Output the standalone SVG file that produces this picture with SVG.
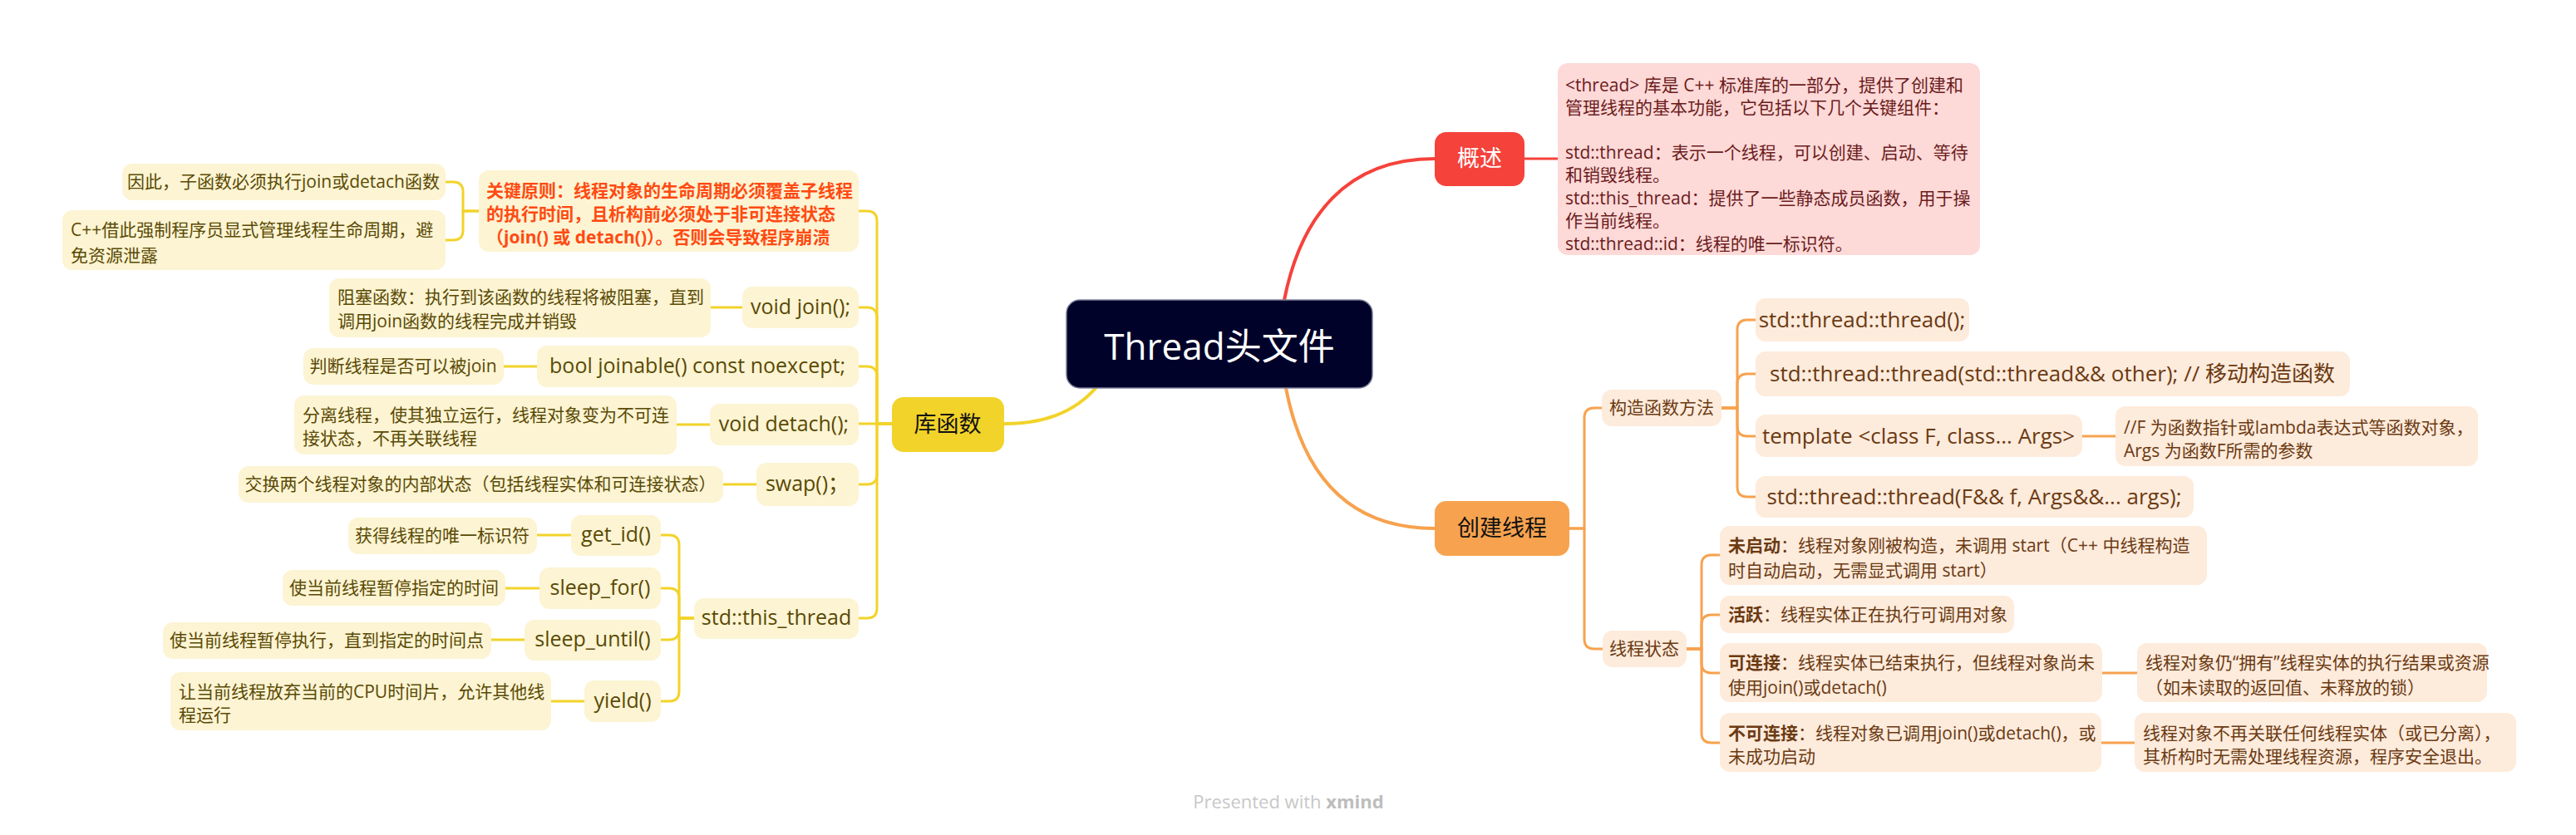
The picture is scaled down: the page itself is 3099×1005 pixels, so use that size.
<svg xmlns="http://www.w3.org/2000/svg" width="3099" height="1005" viewBox="0 0 3099 1005">
<style>
text{font-family:"Open Sans","Noto Sans CJK SC",sans-serif}
.cr{fill:none;stroke:#F5423B;stroke-width:4}
.co{fill:none;stroke:#F7A24E;stroke-width:4}
.cy{fill:none;stroke:#F2D329;stroke-width:4}
.sr{stroke-width:3}
.ny{fill:#FCF4D3}
.no{fill:#FDEBDC}
.ty{fill:#5A4A05;font-size:21px}
.tyc{fill:#5A4A05;font-size:25px;text-anchor:middle}
.to{fill:#6B3A12;font-size:21px}
.toc{fill:#6B3A12;font-size:26px;text-anchor:middle}
.tr{fill:#6B1C1C;font-size:21px}
.main{font-size:27px;text-anchor:middle}
.mid{text-anchor:middle}
</style>
<rect width="3099" height="1005" fill="#FFFFFF"/>
<g id="connectors">
<path class="cr" d="M1545 361 C1565 260 1620 191 1726 191"/>
<path class="cr sr" d="M1834 191 H1874"/>
<path class="co" d="M1547 467 C1567 570 1620 636 1726 636"/>
<path class="co sr" d="M1888 636 H1906 V503 Q1906 491 1918 491 H1927"/>
<path class="co sr" d="M1888 636 H1906 V769 Q1906 781 1918 781 H1928"/>
<path class="co sr" d="M2071 491 H2090 V397 Q2090 385 2102 385 H2112"/>
<path class="co sr" d="M2071 491 H2090 V462 Q2090 450 2102 450 H2112"/>
<path class="co sr" d="M2071 491 H2090 V513 Q2090 525 2102 525 H2112"/>
<path class="co sr" d="M2071 491 H2090 V586 Q2090 598 2102 598 H2112"/>
<path class="co sr" d="M2505 525 H2545"/>
<path class="co sr" d="M2029 781 H2047 V680 Q2047 668 2059 668 H2069"/>
<path class="co sr" d="M2029 781 H2047 V752 Q2047 740 2059 740 H2069"/>
<path class="co sr" d="M2029 781 H2047 V798 Q2047 810 2059 810 H2069"/>
<path class="co sr" d="M2029 781 H2047 V882 Q2047 894 2059 894 H2069"/>
<path class="co sr" d="M2529 810 H2571"/>
<path class="co sr" d="M2528 894 H2568"/>
<path class="cy" d="M1320 465 C1290 500 1250 510 1208 510"/>
<path class="cy sr" d="M1073 510 H1055 V266 Q1055 254 1043 254 H1033"/>
<path class="cy sr" d="M1073 510 H1055 V382 Q1055 370 1043 370 H1033"/>
<path class="cy sr" d="M1073 510 H1055 V453 Q1055 441 1043 441 H1033"/>
<path class="cy sr" d="M1073 510 H1033"/>
<path class="cy sr" d="M1073 510 H1055 V571 Q1055 583 1043 583 H1033"/>
<path class="cy sr" d="M1073 510 H1055 V732 Q1055 744 1043 744 H1033"/>
<path class="cy sr" d="M576 254 H557 V231 Q557 219 545 219 H536"/>
<path class="cy sr" d="M576 254 H557 V277 Q557 289 545 289 H536"/>
<path class="cy sr" d="M835 744 H817 V656 Q817 644 805 644 H795"/>
<path class="cy sr" d="M835 744 H817 V720 Q817 708 805 708 H795"/>
<path class="cy sr" d="M835 744 H817 V758 Q817 770 805 770 H795"/>
<path class="cy sr" d="M835 744 H817 V832 Q817 844 805 844 H795"/>
<path class="cy sr" d="M855 370 H893"/>
<path class="cy sr" d="M606 441 H646"/>
<path class="cy sr" d="M814 511 H854"/>
<path class="cy sr" d="M870 583 H910"/>
<path class="cy sr" d="M646 644 H687"/>
<path class="cy sr" d="M608 708 H649"/>
<path class="cy sr" d="M591 770 H631"/>
<path class="cy sr" d="M663 844 H703"/>
</g>
<g id="root">
<rect x="1283" y="361" width="368" height="106" rx="16" fill="#000229" stroke="#7A7F99" stroke-width="1.5"/>
<text x="1467" y="433" class="mid" font-size="44" fill="#FFFFFF">Thread头文件</text>
</g>
<g id="gaishu">
<rect x="1726" y="159" width="108" height="65" rx="14" fill="#F5423B"/>
<text x="1780" y="200" class="main" fill="#FFFFFF">概述</text>
</g>
<g id="gaishu-note">
<rect x="1874" y="76" width="508" height="231" rx="12" fill="#FDD9D8"/>
<text class="tr" x="1883">
<tspan x="1883" y="110">&lt;thread&gt; 库是 C++ 标准库的一部分，提供了创建和</tspan>
<tspan x="1883" y="137">管理线程的基本功能，它包括以下几个关键组件：</tspan>
<tspan x="1883" y="191">std::thread：表示一个线程，可以创建、启动、等待</tspan>
<tspan x="1883" y="218">和销毁线程。</tspan>
<tspan x="1883" y="246">std::this_thread：提供了一些静态成员函数，用于操</tspan>
<tspan x="1883" y="273">作当前线程。</tspan>
<tspan x="1883" y="301">std::thread::id：线程的唯一标识符。</tspan>
</text>
</g>
<g id="chuangjian">
<rect x="1726" y="603" width="162" height="66" rx="14" fill="#F7A24E"/>
<text x="1807" y="645" class="main" fill="#111111">创建线程</text>
</g>
<g id="gouzao">
<rect x="1927" y="469" width="144" height="44" rx="12" class="no"/>
<text x="1999" y="498" class="to mid">构造函数方法</text>
</g>
<g id="ctor1">
<rect x="2112" y="359" width="257" height="52" rx="12" class="no"/>
<text x="2240" y="394" class="toc">std::thread::thread();</text>
</g>
<g id="ctor2">
<rect x="2112" y="423" width="715" height="54" rx="12" class="no"/>
<text x="2469" y="459" class="toc">std::thread::thread(std::thread&amp;&amp; other); // 移动构造函数</text>
</g>
<g id="ctor3">
<rect x="2112" y="499" width="393" height="51" rx="12" class="no"/>
<text x="2308" y="534" class="toc">template &lt;class F, class... Args&gt;</text>
</g>
<g id="ctor3-note">
<rect x="2545" y="489" width="436" height="72" rx="12" class="no"/>
<text class="to"><tspan x="2555" y="522">//F 为函数指针或lambda表达式等函数对象，</tspan><tspan x="2555" y="550">Args 为函数F所需的参数</tspan></text>
</g>
<g id="ctor4">
<rect x="2112" y="573" width="527" height="50" rx="12" class="no"/>
<text x="2375" y="607" class="toc">std::thread::thread(F&amp;&amp; f, Args&amp;&amp;... args);</text>
</g>
<g id="zhuangtai">
<rect x="1928" y="759" width="101" height="44" rx="12" class="no"/>
<text x="1978" y="788" class="to mid">线程状态</text>
</g>
<g id="state1">
<rect x="2069" y="633" width="586" height="71" rx="12" class="no"/>
<text class="to"><tspan x="2079" y="664"><tspan font-weight="bold">未启动</tspan>：线程对象刚被构造，未调用 start（C++ 中线程构造</tspan><tspan x="2079" y="694">时自动启动，无需显式调用 start）</tspan></text>
</g>
<g id="state2">
<rect x="2069" y="717" width="354" height="45" rx="12" class="no"/>
<text class="to" x="2079" y="747"><tspan font-weight="bold">活跃</tspan>：线程实体正在执行可调用对象</text>
</g>
<g id="state3">
<rect x="2069" y="774" width="460" height="71" rx="12" class="no"/>
<text class="to"><tspan x="2079" y="805"><tspan font-weight="bold">可连接</tspan>：线程实体已结束执行，但线程对象尚未</tspan><tspan x="2079" y="835">使用join()或detach()</tspan></text>
</g>
<g id="state3-note">
<rect x="2571" y="774" width="421" height="71" rx="12" class="no"/>
<text class="to"><tspan x="2581" y="805">线程对象仍“拥有”线程实体的执行结果或资源</tspan><tspan x="2581" y="835">（如未读取的返回值、未释放的锁）</tspan></text>
</g>
<g id="state4">
<rect x="2069" y="858" width="459" height="71" rx="12" class="no"/>
<text class="to"><tspan x="2079" y="890"><tspan font-weight="bold">不可连接</tspan>：线程对象已调用join()或detach()，或</tspan><tspan x="2079" y="918">未成功启动</tspan></text>
</g>
<g id="state4-note">
<rect x="2568" y="858" width="459" height="71" rx="12" class="no"/>
<text class="to"><tspan x="2578" y="890">线程对象不再关联任何线程实体（或已分离），</tspan><tspan x="2578" y="918">其析构时无需处理线程资源，程序安全退出。</tspan></text>
</g>
<g id="kuhanshu">
<rect x="1073" y="478" width="135" height="66" rx="14" fill="#F2D329"/>
<text x="1140" y="520" class="main" fill="#111111">库函数</text>
</g>
<g id="principle">
<rect x="576" y="205" width="457" height="98" rx="12" class="ny"/>
<text font-size="21" font-weight="bold" fill="#FF4A12"><tspan x="585" y="237">关键原则：线程对象的生命周期必须覆盖子线程</tspan><tspan x="585" y="265">的执行时间，且析构前必须处于非可连接状态</tspan><tspan x="585" y="293">（join() 或 detach()）。否则会导致程序崩溃</tspan></text>
</g>
<g id="principle-n1">
<rect x="147" y="197" width="389" height="44" rx="12" class="ny"/>
<text x="341" y="226" class="ty mid">因此，子函数必须执行join或detach函数</text>
</g>
<g id="principle-n2">
<rect x="75" y="253" width="461" height="72" rx="12" class="ny"/>
<text class="ty"><tspan x="85" y="284">C++借此强制程序员显式管理线程生命周期，避</tspan><tspan x="85" y="315">免资源泄露</tspan></text>
</g>
<g id="join">
<rect x="893" y="345" width="140" height="50" rx="12" class="ny"/>
<text x="963" y="378" class="tyc">void join();</text>
</g>
<g id="join-note">
<rect x="396" y="335" width="459" height="71" rx="12" class="ny"/>
<text class="ty"><tspan x="406" y="365">阻塞函数：执行到该函数的线程将被阻塞，直到</tspan><tspan x="406" y="394">调用join函数的线程完成并销毁</tspan></text>
</g>
<g id="joinable">
<rect x="646" y="416" width="387" height="50" rx="12" class="ny"/>
<text x="839" y="449" class="tyc">bool joinable() const noexcept;</text>
</g>
<g id="joinable-note">
<rect x="365" y="419" width="241" height="44" rx="12" class="ny"/>
<text x="485" y="448" class="ty mid">判断线程是否可以被join</text>
</g>
<g id="detach">
<rect x="854" y="486" width="179" height="50" rx="12" class="ny"/>
<text x="943" y="519" class="tyc">void detach();</text>
</g>
<g id="detach-note">
<rect x="354" y="476" width="460" height="71" rx="12" class="ny"/>
<text class="ty"><tspan x="364" y="507">分离线程，使其独立运行，线程对象变为不可连</tspan><tspan x="364" y="535">接状态，不再关联线程</tspan></text>
</g>
<g id="swap">
<rect x="910" y="557" width="123" height="52" rx="12" class="ny"/>
<text x="971" y="591" class="tyc">swap()；</text>
</g>
<g id="swap-note">
<rect x="287" y="561" width="583" height="44" rx="12" class="ny"/>
<text x="578" y="590" class="ty mid">交换两个线程对象的内部状态（包括线程实体和可连接状态）</text>
</g>
<g id="this_thread">
<rect x="835" y="720" width="198" height="49" rx="12" class="ny"/>
<text x="934" y="752" class="tyc">std::this_thread</text>
</g>
<g id="get_id">
<rect x="687" y="620" width="108" height="49" rx="12" class="ny"/>
<text x="741" y="652" class="tyc">get_id()</text>
</g>
<g id="get_id-note">
<rect x="419" y="623" width="227" height="44" rx="12" class="ny"/>
<text x="532" y="652" class="ty mid">获得线程的唯一标识符</text>
</g>
<g id="sleep_for">
<rect x="649" y="683" width="146" height="50" rx="12" class="ny"/>
<text x="722" y="716" class="tyc">sleep_for()</text>
</g>
<g id="sleep_for-note">
<rect x="340" y="686" width="268" height="43" rx="12" class="ny"/>
<text x="474" y="715" class="ty mid">使当前线程暂停指定的时间</text>
</g>
<g id="sleep_until">
<rect x="631" y="746" width="164" height="49" rx="12" class="ny"/>
<text x="713" y="778" class="tyc">sleep_until()</text>
</g>
<g id="sleep_until-note">
<rect x="196" y="749" width="395" height="44" rx="12" class="ny"/>
<text x="393" y="778" class="ty mid">使当前线程暂停执行，直到指定的时间点</text>
</g>
<g id="yield">
<rect x="703" y="819" width="92" height="50" rx="12" class="ny"/>
<text x="749" y="852" class="tyc">yield()</text>
</g>
<g id="yield-note">
<rect x="205" y="809" width="458" height="70" rx="12" class="ny"/>
<text class="ty"><tspan x="215" y="840">让当前线程放弃当前的CPU时间片，允许其他线</tspan><tspan x="215" y="868">程运行</tspan></text>
</g>
<g id="watermark">
<text x="1550" y="973" class="mid" font-size="22" fill="#C8C8C8">Presented with <tspan font-weight="bold" fill="#BDBDBD">xmind</tspan></text>
</g>
</svg>
